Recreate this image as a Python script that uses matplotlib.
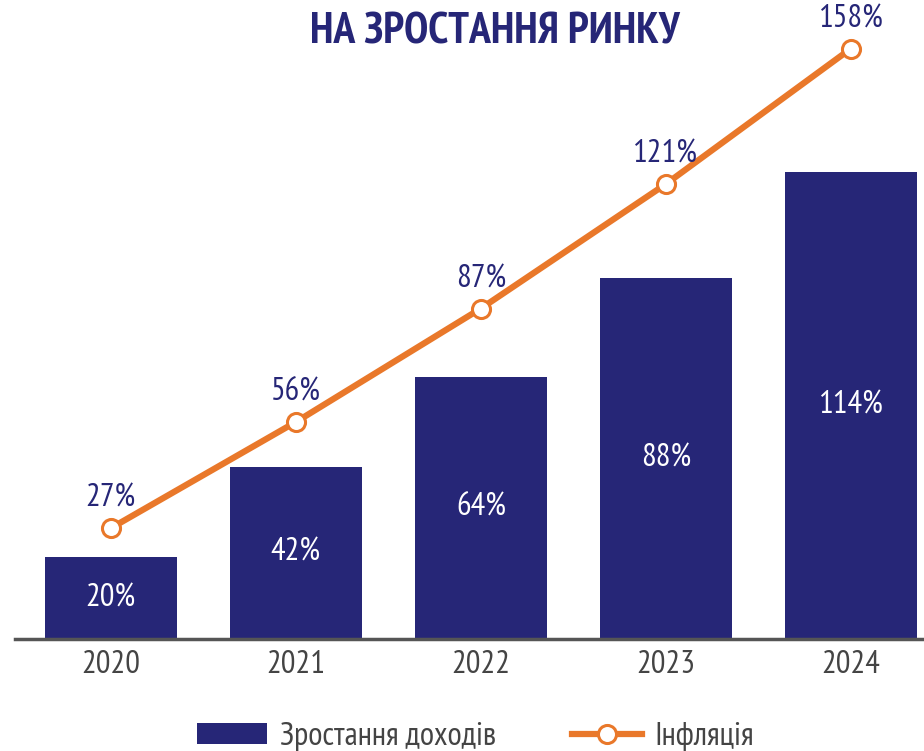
import matplotlib.pyplot as plt
import numpy as np

# Data
years = ['2020', '2021', '2022', '2023', '2024']
income_growth = [20, 42, 64, 88, 114]
inflation = [27, 56, 87, 121, 158]

navy = '#262677'
orange = '#E9782A'
grey = '#444444'

plt.rcParams['font.family'] = ['PT Sans Narrow', 'Roboto Condensed', 'Fira Sans Condensed',
                               'Open Sans Condensed', 'DejaVu Sans']

fig = plt.figure(figsize=(9.24, 7.51), dpi=100)
ax = fig.add_axes([0.016, 0.149, 0.984, 0.819])
x = np.arange(len(years))

bars = ax.bar(x, income_growth, width=0.714, color=navy, label='Зростання доходів', zorder=2)
for xi, v in zip(x, income_growth):
    ax.text(xi, v / 2, f'{v}%', ha='center', va='center', color='white', fontsize=23.5)

ax.set_xlim(-0.519, 4.395)
ax.set_ylim(0, 150)
ax.set_xticks(x)
ax.set_xticklabels(years, fontsize=23.5, color=grey)
ax.tick_params(axis='x', length=0, pad=8)
ax.set_yticks([])
for s in ['top', 'right', 'left']:
    ax.spines[s].set_visible(False)
ax.spines['bottom'].set_color('#555555')
ax.spines['bottom'].set_linewidth(2.5)

# Inflation line on its own scale
ax2 = ax.twinx()
ax2.set_ylim(-3.3, 164.7)
ax2.axis('off')
line, = ax2.plot(x, inflation, color=orange, lw=4.5, marker='o', markersize=13,
                 markerfacecolor='white', markeredgecolor=orange, markeredgewidth=2.2,
                 label='Інфляція', zorder=3)
for xi, v in zip(x, inflation):
    ax2.annotate(f'{v}%', (xi, v), xytext=(0, 21), textcoords='offset points',
                 ha='center', va='center', color=navy, fontsize=23.5)

fig.text(0.536, 0.957, 'НА ЗРОСТАННЯ РИНКУ', ha='center', va='center',
         fontsize=31.5, fontweight='bold', color=navy)

fig.legend([bars, line], ['Зростання доходів', 'Інфляція'], loc='center',
           bbox_to_anchor=(0.515, 0.019), ncol=2, frameon=False, fontsize=23.5,
           labelcolor=grey, handlelength=2.15, handleheight=0.62, columnspacing=2.3,
           handletextpad=0.4)

plt.savefig('out.png', dpi=100)
